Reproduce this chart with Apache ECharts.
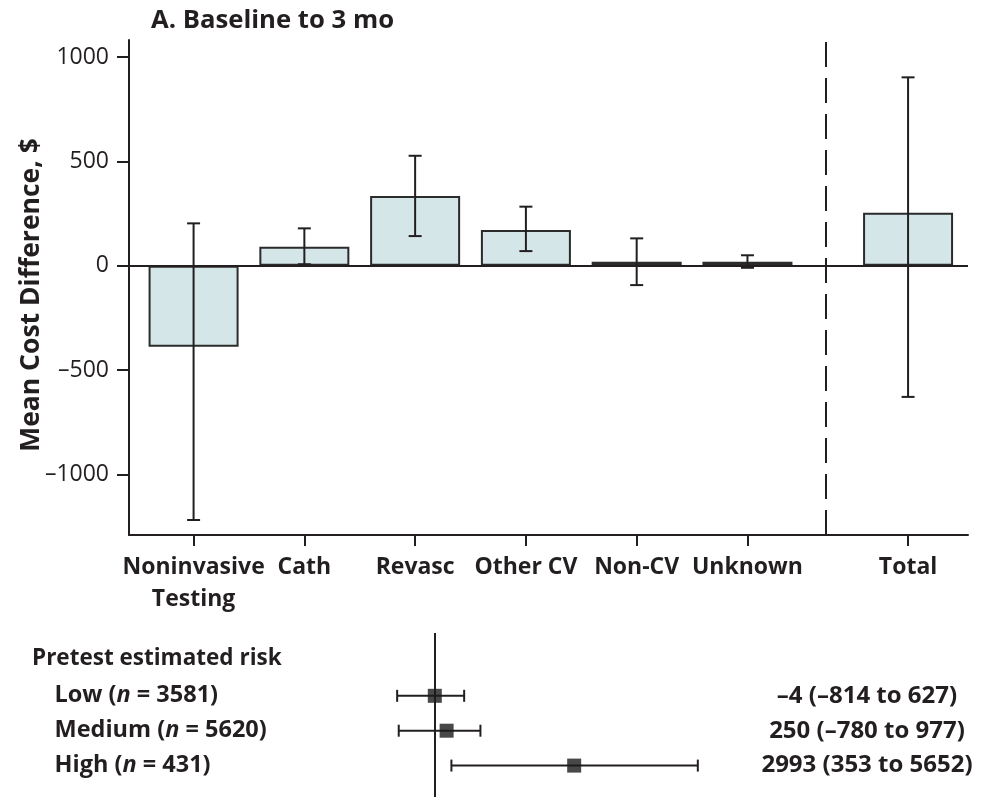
<!DOCTYPE html>
<html>
<head>
<meta charset="utf-8">
<script src="https://cdn.jsdelivr.net/npm/echarts@6/dist/echarts.min.js"></script>
<style>
  html, body { margin: 0; padding: 0; background: #fff; }
  #chart { width: 990px; height: 797px; }
</style>
</head>
<body>
<div id="chart"></div>
<script>
// Cost categories and their mean cost difference ($) with 95% CI
const categories = ['Noninvasive\nTesting', 'Cath', 'Revasc', 'Other CV', 'Non-CV', 'Unknown', 'Total'];
const meanDiff   = [-388, 91, 334, 171, 19, 19, 254];
const ciLower    = [-1219, 7, 142, 70, -93, -10, -629];
const ciUpper    = [203, 179, 527, 283, 131, 50, 903];
const yTicks     = [-1000, -500, 0, 500, 1000];

// Pretest risk subgroups: total cost difference ($) with 95% CI
const riskGroups = ['Low', 'Medium', 'High'];
const riskN      = [3581, 5620, 431];
const riskMean   = [-4, 250, 2993];
const riskLower  = [-814, -780, 353];
const riskUpper  = [627, 977, 5652];

// Layout: slot position of each category along the x value axis
const slots = [1, 2, 3, 4, 5, 6, 7.45];
const dividerAt = 6.712;

const FONT = '"Open Sans", "DejaVu Sans", sans-serif';
const INK = '#231f20';
const fmt = v => (v < 0 ? '\u2013' + Math.abs(v) : String(v));

const barData = meanDiff.map((v, i) => [slots[i], v]);
const errData = meanDiff.map((v, i) => [slots[i], ciLower[i], ciUpper[i]]);
const rows = riskGroups.map((_, i) => i + 1);
const forestPts = riskMean.map((v, i) => [v, rows[i]]);
const forestCI = riskMean.map((v, i) => [riskLower[i], riskUpper[i], rows[i]]);

const chart = echarts.init(document.getElementById('chart'), null, { renderer: 'canvas' });

chart.setOption({
  animation: false,
  backgroundColor: '#ffffff',
  textStyle: { fontFamily: FONT, color: INK },
  title: [
    {
      text: 'A. Baseline to 3 mo', left: 151, top: 8, padding: 0,
      textStyle: { fontFamily: FONT, fontSize: 25.7, fontWeight: 'bold', color: INK }
    },
    {
      text: 'Pretest estimated risk', left: 32, top: 647, padding: 0,
      textStyle: { fontFamily: FONT, fontSize: 22.5, fontWeight: 'bold', color: INK }
    }
  ],
  grid: [
    { left: 129, top: 40, right: 22, bottom: 262 },
    { left: 388.5, top: 633, width: 325.5, height: 164 }
  ],
  xAxis: [
    {
      gridIndex: 0, type: 'value', min: 0.417, max: 7.991,
      splitLine: { show: false },
      axisLine: { show: true, onZero: false, lineStyle: { color: INK, width: 2 } },
      axisTick: { show: true, customValues: slots, length: 11, lineStyle: { color: INK, width: 2 } },
      axisLabel: {
        customValues: slots,
        formatter: v => categories[slots.indexOf(v)] || '',
        fontFamily: FONT, fontSize: 23, fontWeight: 'bold', color: INK,
        lineHeight: 32.5, margin: 16
      }
    },
    {
      gridIndex: 1, type: 'value', min: -1000, max: 6000, show: false
    }
  ],
  yAxis: [
    {
      gridIndex: 0, type: 'value', min: -1291, max: 1082,
      name: 'Mean Cost Difference, $', nameLocation: 'middle', nameRotate: 90, nameGap: 84,
      nameMoveOverlap: false,
      nameTextStyle: { fontFamily: FONT, fontSize: 26.5, fontWeight: 'bold', color: INK, padding: [0, 15, 0, 0] },
      splitLine: { show: false },
      axisLine: { show: true, lineStyle: { color: INK, width: 2 } },
      axisTick: { show: true, customValues: yTicks, length: 12, lineStyle: { color: INK, width: 2 } },
      axisLabel: {
        customValues: yTicks, formatter: fmt,
        fontFamily: FONT, fontSize: 23, color: INK, margin: 20
      }
    },
    {
      gridIndex: 1, type: 'value', min: -0.8, max: 3.9, inverse: true, position: 'left',
      axisLine: { show: false }, axisTick: { show: false }, splitLine: { show: false },
      axisLabel: {
        customValues: rows, align: 'left', margin: 334,
        formatter: v => {
          const i = v - 1;
          return '{b|' + riskGroups[i] + ' (}{i|n}{b| = ' + riskN[i] + ')}';
        },
        rich: {
          b: { fontFamily: FONT, fontSize: 23.5, fontWeight: 'bold', color: INK },
          i: { fontFamily: FONT, fontSize: 23.5, fontWeight: 'bold', fontStyle: 'italic', color: INK }
        }
      }
    },
    {
      gridIndex: 1, type: 'value', min: -0.8, max: 3.9, inverse: true, position: 'right',
      axisLine: { show: false }, axisTick: { show: false }, splitLine: { show: false },
      axisLabel: {
        customValues: rows, align: 'center', margin: 153,
        formatter: v => {
          const i = v - 1;
          return fmt(riskMean[i]) + ' (' + fmt(riskLower[i]) + ' to ' + fmt(riskUpper[i]) + ')';
        },
        fontFamily: FONT, fontSize: 24, fontWeight: 'bold', color: INK
      }
    }
  ],
  series: [
    {
      type: 'bar', xAxisIndex: 0, yAxisIndex: 0,
      data: barData, barWidth: 90,
      itemStyle: { color: '#d5e6e8', borderColor: '#2b2b2b', borderWidth: 2 },
      markLine: {
        silent: true, symbol: 'none', label: { show: false },
        data: [
          { yAxis: 0, lineStyle: { type: 'solid', color: INK, width: 2 } },
          { xAxis: dividerAt, lineStyle: { type: [25, 11], color: INK, width: 2 } }
        ]
      },
      z: 2
    },
    {
      type: 'custom', xAxisIndex: 0, yAxisIndex: 0, z: 5,
      data: errData,
      renderItem: (params, api) => {
        const x = api.value(0);
        const lo = api.coord([x, api.value(1)]);
        const hi = api.coord([x, api.value(2)]);
        const cap = 6.5;
        const style = { stroke: INK, lineWidth: 2 };
        return {
          type: 'group',
          children: [
            { type: 'line', shape: { x1: lo[0], y1: lo[1], x2: hi[0], y2: hi[1] }, style },
            { type: 'line', shape: { x1: lo[0] - cap, y1: lo[1], x2: lo[0] + cap, y2: lo[1] }, style },
            { type: 'line', shape: { x1: hi[0] - cap, y1: hi[1], x2: hi[0] + cap, y2: hi[1] }, style }
          ]
        };
      }
    },
    {
      type: 'custom', xAxisIndex: 1, yAxisIndex: 1, z: 4,
      data: forestCI,
      renderItem: (params, api) => {
        const y = api.value(2);
        const a = api.coord([api.value(0), y]);
        const b = api.coord([api.value(1), y]);
        const cap = 6;
        const style = { stroke: INK, lineWidth: 2 };
        return {
          type: 'group',
          children: [
            { type: 'line', shape: { x1: a[0], y1: a[1], x2: b[0], y2: b[1] }, style },
            { type: 'line', shape: { x1: a[0], y1: a[1] - cap, x2: a[0], y2: a[1] + cap }, style },
            { type: 'line', shape: { x1: b[0], y1: b[1] - cap, x2: b[0], y2: b[1] + cap }, style }
          ]
        };
      },
      markLine: {
        silent: true, symbol: 'none', label: { show: false },
        data: [{ xAxis: 0, lineStyle: { type: 'solid', color: INK, width: 2 } }]
      }
    },
    {
      type: 'scatter', xAxisIndex: 1, yAxisIndex: 1, z: 6,
      data: forestPts, symbol: 'rect', symbolSize: 14,
      itemStyle: { color: '#1a1a1a' }
    }
  ]
});
</script>
</body>
</html>
